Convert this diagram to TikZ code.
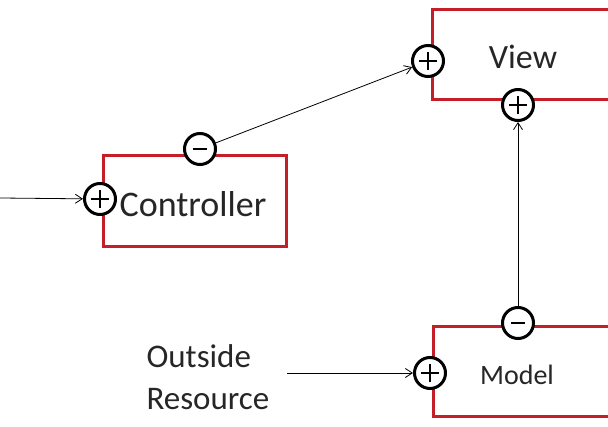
\documentclass[tikz,border=0pt]{standalone}
\usepackage{fontspec}
\setmainfont{Carlito}
\usetikzlibrary{arrows.meta}
\definecolor{boxred}{RGB}{196,30,40}

\begin{document}
\begin{tikzpicture}[%
      x=1pt, y=-1pt,
      redbox/.style={draw=boxred, line width=3pt, fill=white, minimum width=#1},
      redbox/.default=183pt,
      port/.style={circle, draw=black, line width=3pt, fill=white,
                   minimum size=31pt, inner sep=0pt},
      plusport/.style={port, path picture={
          \draw[line width=2.6pt] ([xshift=-9pt]path picture bounding box.center) -- ([xshift=9pt]path picture bounding box.center);
          \draw[line width=2.6pt] ([yshift=-9pt]path picture bounding box.center) -- ([yshift=9pt]path picture bounding box.center);}},
      minusport/.style={port, path picture={
          \draw[line width=2.6pt] ([xshift=-7pt]path picture bounding box.center) -- ([xshift=7pt]path picture bounding box.center);}},
      arr/.style={-{Straight Barb[length=7pt,width=9pt]}, line width=0.8pt},
      lbl/.style={font=\fontsize{36}{42}\selectfont, text=black!85},
      ]
      \useasboundingbox (0,0) rectangle (608,427);
      \clip (0,0) rectangle (608,427);

      % boxes
      \node[redbox, minimum height=91pt] (ctrlbox) at (194.5,201.5) {};
      \node[redbox=220pt, minimum height=90pt] (viewbox) at (542,55) {};
      \node[redbox=220pt, minimum height=90pt] (modelbox) at (543,372) {};

      % texts
      \node[lbl] (ctrltxt) at (193,204) {Controller};
      \node[lbl, font=\fontsize{34}{40}\selectfont] (viewtxt) at (523,57) {View};
      \node[lbl, font=\fontsize{28}{34}\selectfont] (modeltxt) at (517,375) {Model};
      \node[lbl, font=\fontsize{33}{42}\selectfont, align=left, anchor=west] (res) at (143,377) {Outside\\Resource};

      % ports
      \node[plusport] (cplus) at (100,199) {};
      \node[minusport] (cminus) at (200,149) {};
      \node[plusport] (vplus) at (428,61) {};
      \node[plusport] (vplusb) at (518,105) {};
      \node[minusport] (mminus) at (518,323) {};
      \node[plusport] (mplus) at (430,373) {};

      % connectors
      \coordinate (cin) at (0,198);
      \coordinate (resout) at (287,373);
      \draw[arr] (cin) -- (cplus);
      \draw[arr] (cminus) -- (vplus);
      \draw[arr] (mminus) -- (vplusb);
      \draw[arr] (resout) -- (mplus);
\end{tikzpicture}
\end{document}
